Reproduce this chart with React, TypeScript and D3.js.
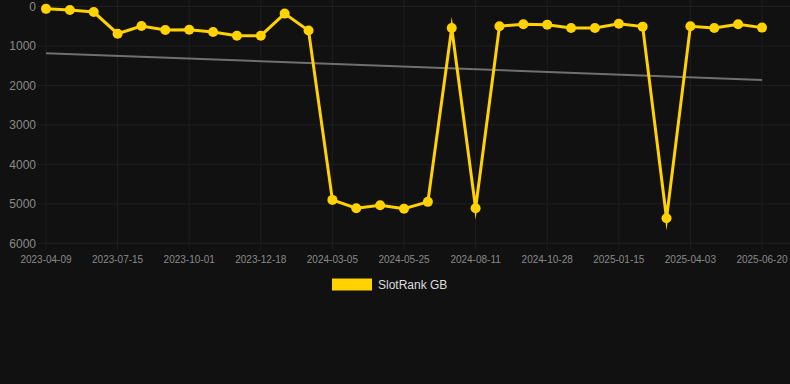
import React from "react";
import * as d3 from "d3";

const labels = [
  "2023-04-09", "", "", "2023-07-15", "", "", "2023-10-01", "", "", "2023-12-18", "", "",
  "2024-03-05", "", "", "2024-05-25", "", "", "2024-08-11", "", "", "2024-10-28", "", "",
  "2025-01-15", "", "", "2025-04-03", "", "", "2025-06-20",
];
const rankGB = [
  60, 90, 140, 690, 495, 595, 590, 645, 740, 740, 180, 610,
  4900, 5110, 5035, 5125, 4950, 545, 5110, 500, 450, 460, 545, 545,
  435, 510, 5365, 500, 545, 450, 535,
];
const trendStart = 1185;
const trendEnd = 1860;
const yTicks = [0, 1000, 2000, 3000, 4000, 5000, 6000];
const seriesName = "SlotRank GB";

const W = 790;
const H = 384;
const left = 46;
const right = 762;
const top = 6.5;
const bottom = 243.3;

export default function App() {
  const idx = labels.map((_, i) => i);
  const x = d3.scalePoint<number>().domain(idx).range([left, right]);
  const y = d3.scaleLinear().domain([0, 6000]).range([top, bottom]);
  const line = d3
    .line<number>()
    .x((_, i) => x(i) as number)
    .y((d) => y(d));
  const gold = "#FFD200";
  const grid = "#1f1f1f";
  const tickColor = "#8a8a8a";
  return (
    <div style={{ position: "absolute", left: 0, top: 0, width: W, height: H, background: "#111111" }}>
      <svg width={W} height={H} style={{ display: "block" }} fontFamily="Arial, 'Liberation Sans', sans-serif">
        <rect x={0} y={0} width={W} height={H} fill="#111111" />
        {yTicks.map((t) => (
          <g key={"y" + t}>
            <line x1={38} x2={W} y1={y(t)} y2={y(t)} stroke={grid} strokeWidth={1} />
            <text x={36} y={y(t)} dy="0.35em" textAnchor="end" fontSize={12} fill={tickColor}>
              {t}
            </text>
          </g>
        ))}
        {labels.map((l, i) =>
          l ? (
            <g key={"x" + i}>
              <line x1={x(i)} x2={x(i)} y1={0} y2={bottom + 6} stroke={grid} strokeWidth={1} />
              <text x={x(i)} y={259} dy="0.35em" textAnchor="middle" fontSize={10} fill={tickColor}>
                {l}
              </text>
            </g>
          ) : null
        )}
        <line
          x1={x(0)}
          x2={x(labels.length - 1)}
          y1={y(trendStart)}
          y2={y(trendEnd)}
          stroke="#707070"
          strokeWidth={2}
        />
        <path
          d={line(rankGB) || ""}
          fill="none"
          stroke={gold}
          strokeWidth={3}
          strokeLinejoin="miter"
          strokeMiterlimit={10}
        />
        {rankGB.map((v, i) => (
          <circle key={"p" + i} cx={x(i)} cy={y(v)} r={5} fill={gold} />
        ))}
        <rect x={332} y={278.5} width={40} height={12} fill={gold} />
        <text x={378} y={284.5} dy="0.35em" fontSize={12} fill="#dddddd">
          {seriesName}
        </text>
      </svg>
    </div>
  );
}
